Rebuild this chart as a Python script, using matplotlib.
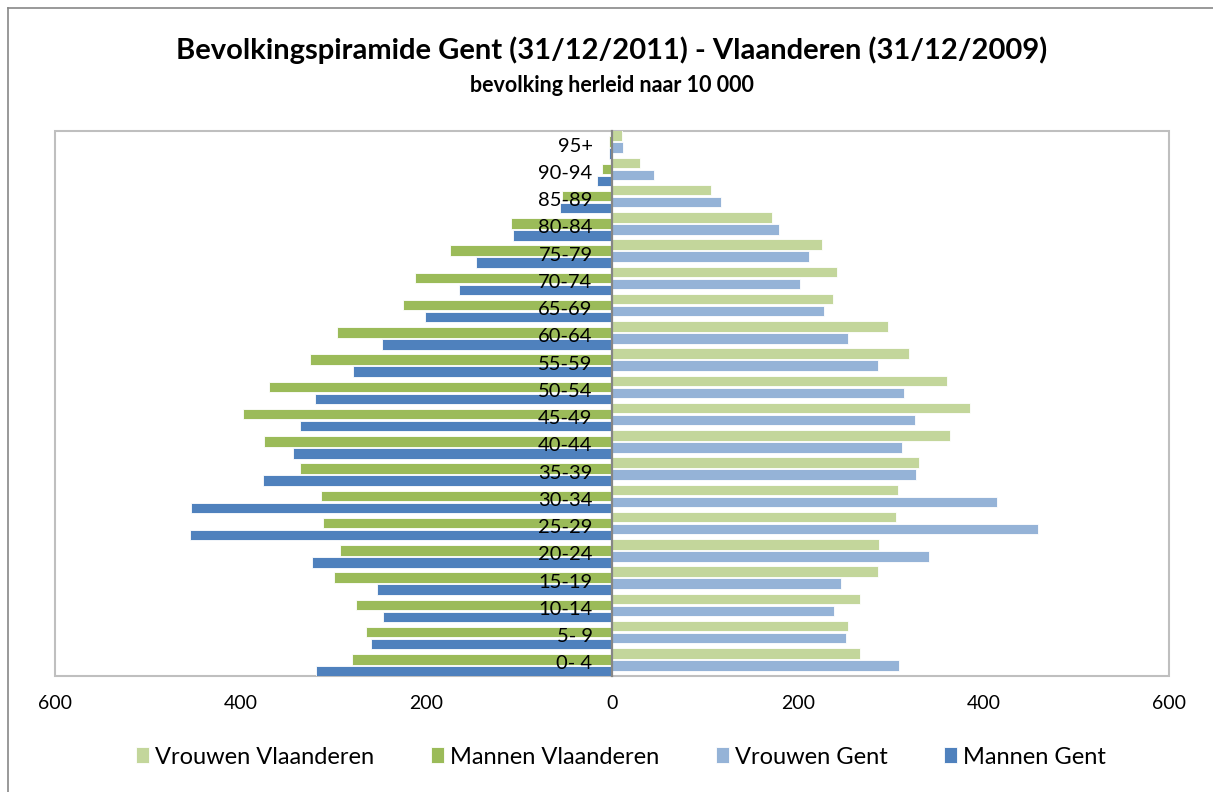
import numpy as np
import matplotlib
matplotlib.use('Agg')
from matplotlib import pyplot as plt
from matplotlib.patches import Rectangle
from matplotlib.lines import Line2D

# leeftijdsgroepen van onder naar boven
ages = ['0- 4', '5- 9', '10-14', '15-19', '20-24', '25-29', '30-34', '35-39',
        '40-44', '45-49', '50-54', '55-59', '60-64', '65-69', '70-74', '75-79',
        '80-84', '85-89', '90-94', '95+']
vrouwen_vl = [267, 254, 267, 287, 288, 306, 308, 331, 364, 386,
              361, 320, 297, 238, 242, 226, 172, 107, 30, 11]
mannen_vl = [280, 265, 276, 300, 293, 311, 313, 336, 375, 397,
             369, 325, 296, 225, 212, 175, 109, 54, 11, 3]
vrouwen_gent = [309, 252, 239, 247, 341, 459, 415, 328, 312, 326,
                315, 286, 254, 228, 202, 212, 180, 117, 45, 12]
mannen_gent = [319, 260, 247, 253, 323, 455, 453, 376, 344, 336,
               320, 279, 248, 201, 165, 147, 107, 56, 16, 3]
xticks = [-600, -400, -200, 0, 200, 400, 600]

plt.rcParams['font.family'] = ['Lato', 'DejaVu Sans']

fig = plt.figure(figsize=(12.13, 7.92), dpi=100)
ax = fig.add_axes([55/1213, 1-676/792, 1114/1213, 545/792])

y = np.arange(len(ages))
h = 0.385
step = 0.22
ax.barh(y + 1.5*step, vrouwen_vl, height=h, color='#c3d69b', edgecolor='white', linewidth=0.6, label='Vrouwen Vlaanderen')
ax.barh(y + 0.5*step, -np.array(mannen_vl), height=h, color='#9bbb59', edgecolor='white', linewidth=0.6, label='Mannen Vlaanderen')
ax.barh(y - 0.5*step, vrouwen_gent, height=h, color='#95b3d7', edgecolor='white', linewidth=0.6, label='Vrouwen Gent')
ax.barh(y - 1.5*step, -np.array(mannen_gent), height=h, color='#4f81bd', edgecolor='white', linewidth=0.6, label='Mannen Gent')

ax.set_xlim(-600, 600)
ax.set_ylim(-0.5, len(ages) - 0.5)
ax.set_xticks(xticks)
ax.set_xticklabels([str(abs(v)) for v in xticks])
ax.set_yticks(y)
ax.set_yticklabels(ages)
ax.tick_params(axis='x', length=0, pad=14, labelsize=14)
ax.tick_params(axis='y', length=0, pad=14, labelsize=14.5)

for s in ['top', 'right', 'bottom']:
    ax.spines[s].set_visible(False)
ax.spines['left'].set_position(('data', 0))
ax.spines['left'].set_color('#868686')
ax.spines['left'].set_linewidth(1.6)
ax.spines['left'].set_zorder(5)
ax.add_patch(Rectangle((0, 0), 1, 1, transform=ax.transAxes, fill=False,
                       edgecolor='#bfbfbf', linewidth=1.5, clip_on=False, zorder=0))

fig.text(0.5045, 1-50/792, 'Bevolkingspiramide Gent (31/12/2011) - Vlaanderen (31/12/2009)',
         ha='center', va='center', fontsize=21, fontweight='bold')
fig.text(0.5045, 1-86/792, 'bevolking herleid naar 10 000',
         ha='center', va='center', fontsize=15.5, fontweight='bold')

fig.legend(loc='center', bbox_to_anchor=(0.512, 1-757/792), ncol=4, frameon=False,
           fontsize=17, handlelength=0.55, handleheight=0.65, handletextpad=0.25,
           columnspacing=2.4)

# rand van de grafiek
fig.add_artist(Line2D([7.5/1213, 7.5/1213], [0, 1-7.5/792], color='#878787', linewidth=1.2))
fig.add_artist(Line2D([7.5/1213, 1], [1-7.5/792, 1-7.5/792], color='#878787', linewidth=1.2))

plt.savefig('out.png', dpi=100)
